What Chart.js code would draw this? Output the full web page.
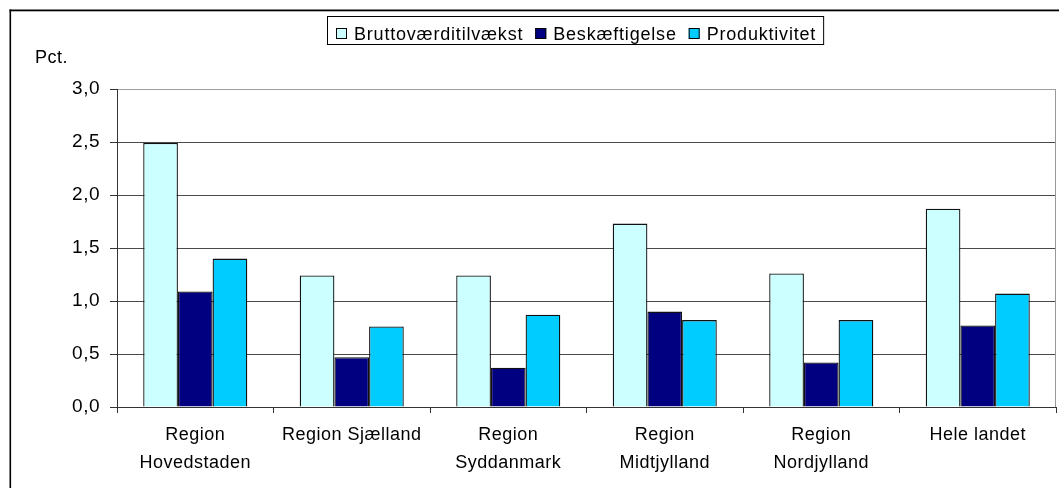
<!DOCTYPE html>
<html><head><meta charset="utf-8">
<script src="https://cdn.jsdelivr.net/npm/chart.js@4"></script>
<style>html,body{margin:0;padding:0;background:#fff}canvas{display:block}</style>
</head><body>
<canvas id="c" width="1059" height="488" style="width:1059px;height:488px"></canvas>
<script>
const categories = [['Region','Hovedstaden'],'Region Sjælland',['Region','Syddanmark'],['Region','Midtjylland'],['Region','Nordjylland'],'Hele landet'];
const seriesNames = ['Bruttoværditilvækst','Beskæftigelse','Produktivitet'];
const bruttovaerditilvaekst = [2.49,1.24,1.24,1.73,1.26,1.87];
const beskaeftigelse = [1.09,0.47,0.37,0.90,0.42,0.77];
const produktivitet = [1.40,0.76,0.87,0.82,0.82,1.07];
const yUnit = 'Pct.';
const yMin = 0, yMax = 3, yStep = 0.5;
const seriesColors = ['#CCFFFF','#000080','#00CCFF'];

const FONT = '"Liberation Sans", Arial, sans-serif';

const spacingPlugin = {
  id: 'spacing',
  beforeLayout(chart){ chart.ctx.letterSpacing = '0.5px'; },
  beforeDraw(chart){
    const ctx = chart.ctx;
    ctx.letterSpacing = '0.5px';
    ctx.save();
    ctx.fillStyle = '#000';
    ctx.fillRect(9.5, 9.5, 1.6, chart.height);
    ctx.fillRect(9.5, 9.5, chart.width, 1.8);
    ctx.restore();
  },
  afterDraw(chart){
    const ctx = chart.ctx;
    const a = chart.chartArea;
    ctx.save();
    ctx.strokeStyle = '#999';
    ctx.lineWidth = 1;
    ctx.beginPath();
    ctx.moveTo(Math.round(a.right) - 0.5, a.top);
    ctx.lineTo(Math.round(a.right) - 0.5, a.bottom);
    ctx.stroke();
    ctx.fillStyle = '#000';
    ctx.font = '18px ' + FONT;
    ctx.letterSpacing = '0.5px';
    ctx.textAlign = 'left';
    ctx.textBaseline = 'alphabetic';
    ctx.fillText(yUnit, 35, 63);
    ctx.letterSpacing = '0.8px';
    const sq = 11, gapST = 7, gapItems = 12, padL = 9, padR = 7;
    const widths = seriesNames.map(n => ctx.measureText(n).width);
    let total = padL + padR + gapItems * (seriesNames.length - 1);
    widths.forEach(w => total += sq + gapST + w);
    const left = Math.round(575.5 - total / 2), top = 16, h = 28;
    ctx.fillStyle = '#fff';
    ctx.fillRect(left, top, total, h);
    ctx.strokeStyle = '#000';
    ctx.lineWidth = 1;
    ctx.strokeRect(left + 0.5, top + 0.5, total, h);
    let x = left + padL;
    seriesNames.forEach((n, i) => {
      ctx.fillStyle = seriesColors[i];
      ctx.fillRect(x, 28, sq, sq);
      ctx.strokeStyle = '#000';
      ctx.strokeRect(x + 0.5, 28.5, sq - 1, sq - 1);
      x += sq + gapST;
      ctx.fillStyle = '#000';
      ctx.fillText(n, x, 39.5);
      x += widths[i] + gapItems;
    });
    ctx.restore();
  }
};

const datasets = [bruttovaerditilvaekst, beskaeftigelse, produktivitet].map((d, i) => ({
  label: seriesNames[i],
  data: d,
  backgroundColor: seriesColors[i],
  borderColor: '#111',
  borderWidth: 1.3,
  categoryPercentage: 0.665,
  barPercentage: 1.0
}));

new Chart(document.getElementById('c'), {
  type: 'bar',
  data: { labels: categories, datasets },
  options: {
    responsive: false,
    animation: false,
    events: [],
    layout: { padding: { left: 0, right: 3, top: 89, bottom: 0 } },
    plugins: { legend: { display: false }, tooltip: { enabled: false }, title: { display: false } },
    scales: {
      x: {
        afterFit(s){ s.height = 81; },
        grid: { offset: true, drawOnChartArea: false, drawTicks: true, tickLength: 6, color: '#333', lineWidth: 1 },
        border: { display: true, color: '#333', width: 1 },
        ticks: { color: '#000', padding: 8, maxRotation: 0, autoSkip: false,
          font: { family: FONT, size: 18, lineHeight: 1.555 } }
      },
      y: {
        min: yMin, max: yMax,
        afterFit(s){ s.width = 117; },
        grid: {
          color: ctx => (ctx.tick && ctx.tick.value === yMax) ? '#a0a0a0' : '#4a4a4a',
          tickColor: '#333', tickLength: 7, lineWidth: 1
        },
        border: { display: true, color: '#333', width: 1 },
        ticks: { stepSize: yStep, color: '#000', padding: 10,
          font: { family: FONT, size: 19 },
          callback: v => Number(v).toFixed(1).replace('.', ',') }
      }
    }
  },
  plugins: [spacingPlugin]
});
</script>
</body></html>
